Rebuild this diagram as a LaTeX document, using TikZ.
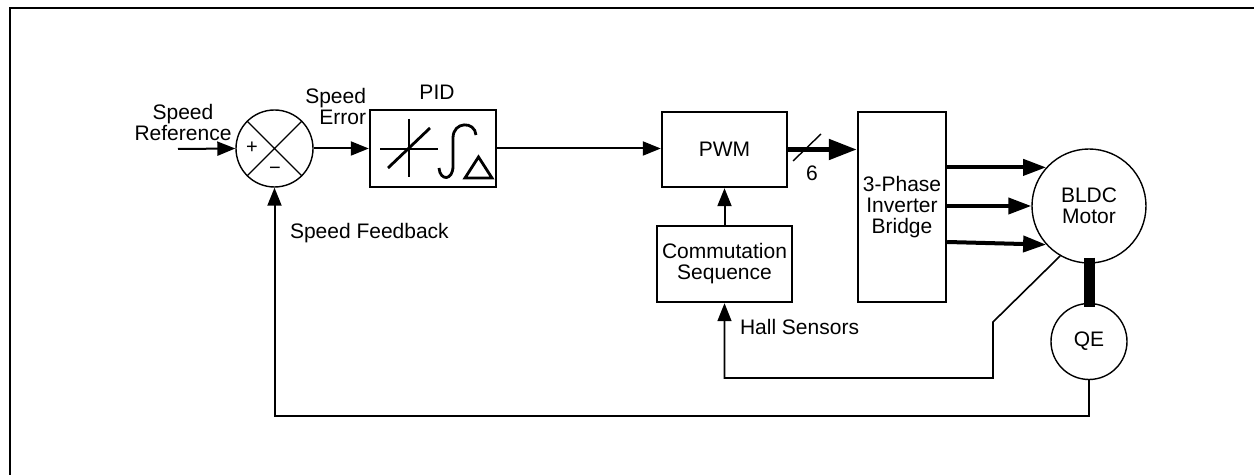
\documentclass[tikz,border=0pt]{standalone}
\usepackage{fontspec}
\setmainfont{Liberation Sans}
\usetikzlibrary{arrows.meta}
\begin{document}
\begin{tikzpicture}[x=0.5pt,y=-0.5pt,
  font=\fontsize{10.5}{10.5}\selectfont,
  line width=1pt,
  blk/.style={draw,rectangle,inner sep=0pt,line width=1.2pt,align=center},
  circ/.style={draw,circle,inner sep=0pt,line width=0.7pt,align=center},
  arr/.style={-{Triangle[length=9pt,width=7pt]}},
  bus/.style={line width=2.5pt,-{Triangle[length=14pt,width=10pt]}},
  phase/.style={line width=2pt,-{Triangle[length=11.5pt,width=8pt]}},
  lbl/.style={inner sep=0pt,align=center},
  sym/.style={line width=1.4pt}]
\useasboundingbox (0,0) rectangle (1254,475);
\draw[line width=1.2pt] (10,475) -- (10,8) -- (1254,8);

% summing junction
\node[circ,minimum size=38.5pt] (sum) at (274.5,148.5) {};
\draw[line width=0.7pt] (sum.45) -- (sum.225) (sum.135) -- (sum.315);
\node[lbl,font=\fontsize{10}{10}\selectfont] (plus) at (252,148) {+};
\node[lbl,font=\fontsize{10}{10}\selectfont] (minus) at (275,171) {−};

\node[lbl] (sref) at (183,122) {Speed\\Reference};
\node[lbl,align=right,anchor=east] (serr) at (367,106) {Speed\\Error};
\coordinate (in) at (178,149);
\draw[arr] (in) -- (sum.west);

% PID
\node[blk,minimum width=63pt,minimum height=38.5pt] (pid) at (433,148.5) {};
\node[lbl] (pidl) at (437,92) {PID};
\draw[arr] (sum.east) -- (pid.west);
\draw[line width=1pt] (380,149) -- (438,149);
\draw[line width=1pt] (409,119) -- (409,177);
\draw[sym] (388,168) -- (430,128);
\draw[sym] (439,168) .. controls (440,181) and (453,181) .. (453,166) -- (453,138)
  .. controls (453,121) and (475,121) .. (476,135);
\draw[sym,line join=miter] (465,178) -- (492,178) -- (478.5,157) -- cycle;

% PWM
\node[blk,minimum width=62.5pt,minimum height=37.5pt] (pwm) at (724.5,149.5) {PWM};
\draw[arr] (pid.east) -- (pid.east -| pwm.west);

% Commutation
\node[blk,minimum width=67.5pt,minimum height=38pt] (comm) at (724.5,264) {Commutation\\Sequence};
\draw[arr] (comm.north) -- (pwm.south);

% Bridge
\node[blk,minimum width=44pt,minimum height=95pt] (bridge) at (902,207) {3-Phase\\Inverter\\Bridge};
\draw[bus] (pwm.east) -- (pwm.east -| bridge.west);
\draw[line width=0.7pt] (793,161) -- (821,134);
\node[lbl] (six) at (812,173) {6};

% Motor and QE
\node[circ,minimum size=57pt] (motor) at (1089,206) {BLDC\\Motor};
\node[circ,minimum size=38pt] (qe) at (1089,341.5) {QE};
\draw[line width=5.5pt,shorten <=-3pt,shorten >=-2pt] (motor.south) -- (qe.north);

\draw[phase] (motor.138 -| bridge.east) -- (motor.138);
\draw[phase] (motor.west -| bridge.east) -- (motor.west);
\draw[phase] ([yshift=-17.5pt]bridge.east) -- (motor.222);

% Hall sensors
\coordinate (h1) at (993,322);
\coordinate (h2) at (993,378);
\draw[arr,line width=0.8pt] (motor.240) -- (h1) -- (h2) -- (h2 -| comm.south) -- (comm.south);
\node[lbl,anchor=west] (hall) at (739,327) {Hall Sensors};

% Speed feedback
\coordinate (fb) at (1089,416);
\draw[arr] (qe.south) -- (fb) -- (fb -| sum.south) -- (sum.south);
\node[lbl,anchor=west] (sfb) at (289,233) {Speed Feedback};
\end{tikzpicture}
\end{document}
